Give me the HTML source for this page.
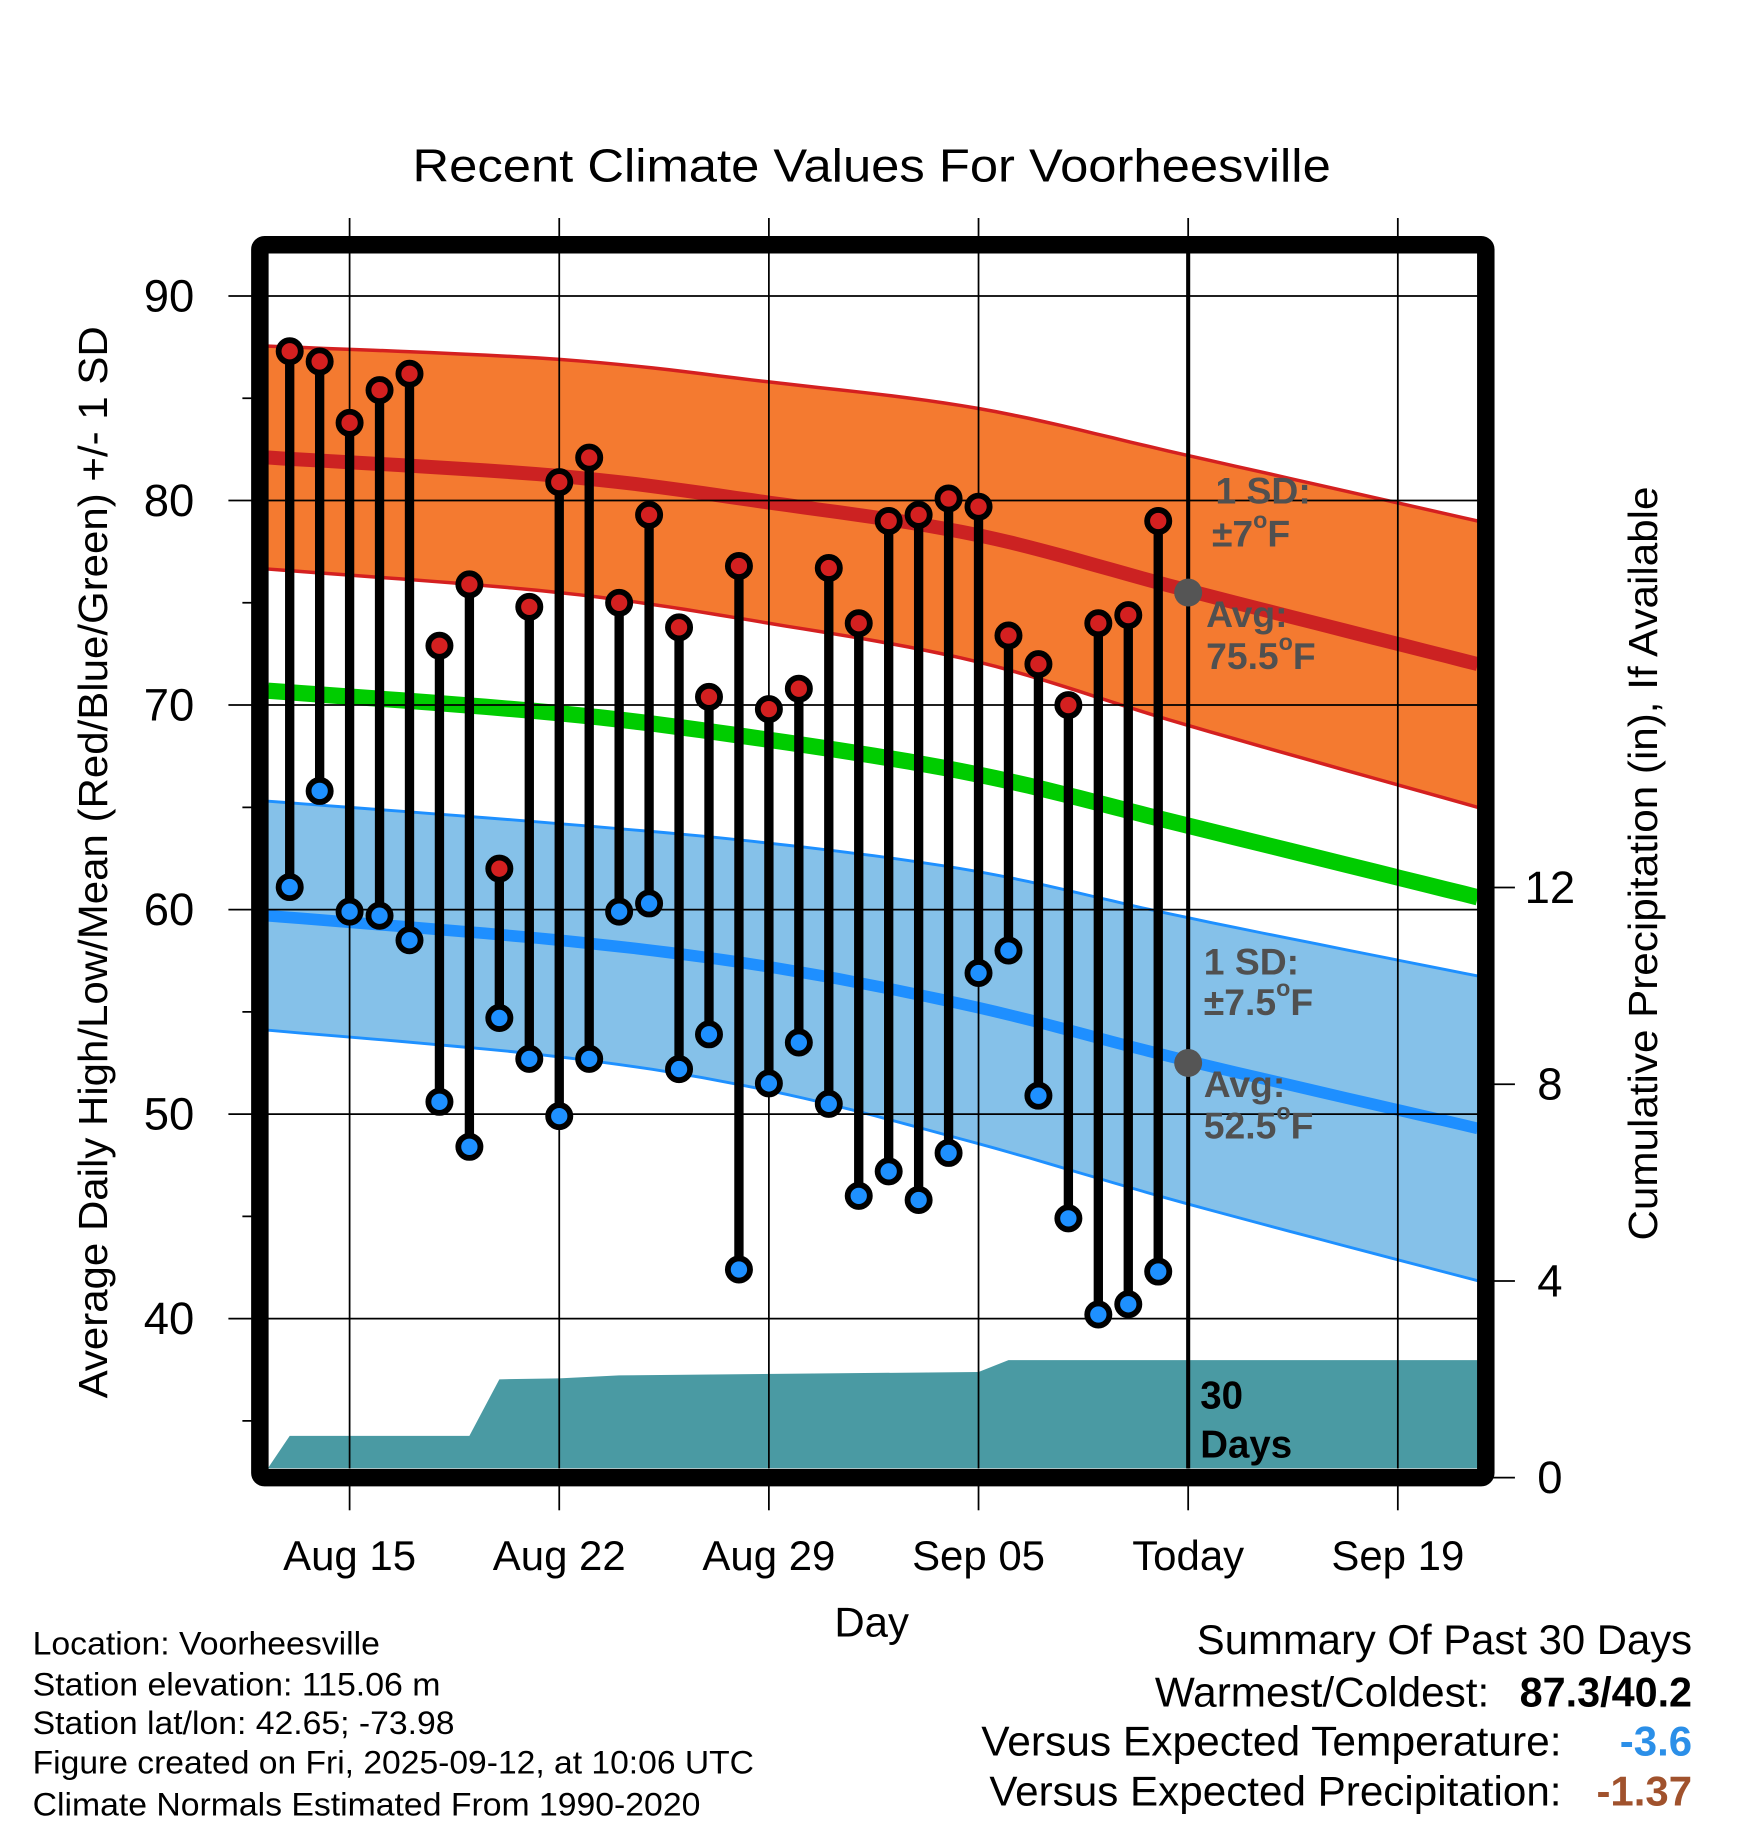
<!DOCTYPE html>
<html><head><meta charset="utf-8"><style>html,body{margin:0;padding:0;background:#fff}svg{display:block}text{font-family:"Liberation Sans",sans-serif}</style></head>
<body>
<svg id="chart" width="1748" height="1828" viewBox="0 0 1500 1568.6" xmlns="http://www.w3.org/2000/svg">
<text x="748" y="142" font-size="40" text-anchor="middle" dominant-baseline="central" textLength="788" lengthAdjust="spacingAndGlyphs">Recent Climate Values For Voorheesville</text>
<g id="layers"></g>
<text x="748" y="1392" font-size="36" text-anchor="middle" dominant-baseline="central">Day</text>
<text transform="translate(80,740) rotate(-90)" font-size="35" text-anchor="middle" dominant-baseline="central" textLength="920" lengthAdjust="spacingAndGlyphs">Average Daily High/Low/Mean (Red/Blue/Green) +/- 1 SD</text>
<text transform="translate(1410,741) rotate(-90)" font-size="35" text-anchor="middle" dominant-baseline="central" textLength="647" lengthAdjust="spacingAndGlyphs">Cumulative Precipitation (in), If Available</text>
<g font-size="28">
<text x="28" y="1410" dominant-baseline="central" textLength="298" lengthAdjust="spacingAndGlyphs">Location: Voorheesville</text>
<text x="28" y="1445" dominant-baseline="central" textLength="350" lengthAdjust="spacingAndGlyphs">Station elevation: 115.06 m</text>
<text x="28" y="1478" dominant-baseline="central" textLength="362" lengthAdjust="spacingAndGlyphs">Station lat/lon: 42.65; -73.98</text>
<text x="28" y="1512" dominant-baseline="central" textLength="619" lengthAdjust="spacingAndGlyphs">Figure created on Fri, 2025-09-12, at 10:06 UTC</text>
<text x="28" y="1548" dominant-baseline="central" textLength="573" lengthAdjust="spacingAndGlyphs">Climate Normals Estimated From 1990-2020</text>
</g>
<g font-size="36">
<text x="1452" y="1407" text-anchor="end" dominant-baseline="central" textLength="425" lengthAdjust="spacingAndGlyphs">Summary Of Past 30 Days</text>
<text x="1278" y="1452" text-anchor="end" dominant-baseline="central" textLength="287" lengthAdjust="spacingAndGlyphs">Warmest/Coldest:</text>
<text x="1452" y="1452" text-anchor="end" dominant-baseline="central" font-weight="bold" textLength="148" lengthAdjust="spacingAndGlyphs">87.3/40.2</text>
<text x="1340" y="1494" text-anchor="end" dominant-baseline="central" textLength="498" lengthAdjust="spacingAndGlyphs">Versus Expected Temperature:</text>
<text x="1452" y="1494" text-anchor="end" dominant-baseline="central" font-weight="bold" fill="#2b8fe8">-3.6</text>
<text x="1340" y="1537" text-anchor="end" dominant-baseline="central" textLength="491" lengthAdjust="spacingAndGlyphs">Versus Expected Precipitation:</text>
<text x="1452" y="1537" text-anchor="end" dominant-baseline="central" font-weight="bold" fill="#a0522d">-1.37</text>
</g>
</svg>
<script>
// day index: 0 = Aug 15
const normDays = [-2.72, 7, 14, 21, 28, 37.67];
const highMean = [82.1, 81.2, 79.9, 78.3, 75.6, 72.0];
const highSD = [5.45, 5.7, 5.9, 6.2, 6.6, 7.0];
const avgMean = [70.7, 69.6, 68.3, 66.6, 64.1, 60.6];
const lowMean = [59.7, 58.5, 57.2, 55.2, 52.6, 49.3];
const lowSD = [5.6, 5.7, 6.05, 6.65, 7.0, 7.45];
const obsDays = [-2,-1,0,1,2,3,4,5,6,7,8,9,10,11,12,13,14,15,16,17,18,19,20,21,22,23,24,25,26,27];
const highs = [87.3,86.8,83.8,85.4,86.2,72.9,75.9,62.0,74.8,80.9,82.1,75.0,79.3,73.8,70.4,76.8,69.8,70.8,76.7,74.0,79.0,79.3,80.1,79.7,73.4,72.0,70.0,74.0,74.4,79.0];
const lows = [61.1,65.8,59.9,59.7,58.5,50.6,48.4,54.7,52.7,49.9,52.7,59.9,60.3,52.2,53.9,42.4,51.5,53.5,50.5,46.0,47.2,45.8,48.1,56.9,58.0,50.9,44.9,40.2,40.7,42.3];
const precipDays = [-2.72,-2,4,5,7,9,21,22,37.67];
const precipVals = [0.2,0.85,0.85,2.0,2.02,2.08,2.15,2.39,2.39];
const yTicks = [90,80,70,60,50,40];
const yMinor = [85,75,65,55,45,35];
const y2Ticks = [0,4,8,12];
const xTickDays = [0,7,14,21,28,35];
const xTickLabels = ["Aug 15","Aug 22","Aug 29","Sep 05","Today","Sep 19"];

const L=230,R=1268,T=217,B=1260;
const X=d=>300+25.7*d;
const Y=v=>254+(90-v)*17.55;
const Y2=p=>1268-p*42.2;
const NS='http://www.w3.org/2000/svg';
const g=document.getElementById('layers');
function mk(tag,attrs,parent){const e=document.createElementNS(NS,tag);for(const k in attrs)e.setAttribute(k,attrs[k]);(parent||g).appendChild(e);return e;}
function line(arr){return arr.map((p,i)=>(i?'L':'M')+p[0].toFixed(1)+','+p[1].toFixed(1)).join(' ');}
// smooth (Catmull-Rom) sampled into polyline
function smooth(arr){const out=[];const n=arr.length;
 for(let i=0;i<n-1;i++){const p0=arr[Math.max(0,i-1)],p1=arr[i],p2=arr[i+1],p3=arr[Math.min(n-1,i+2)];
  for(let k=0;k<12;k++){const t=k/12,t2=t*t,t3=t2*t;
   const f=(a,b,c,d)=>0.5*((2*b)+(-a+c)*t+(2*a-5*b+4*c-d)*t2+(-a+3*b-3*c+d)*t3);
   out.push([f(p0[0],p1[0],p2[0],p3[0]),f(p0[1],p1[1],p2[1],p3[1])]);}}
 out.push(arr[n-1]);return out;}
function band(mean,sd){const up=smooth(normDays.map((d,i)=>[X(d),Y(mean[i]+sd[i])]));const lo=smooth(normDays.map((d,i)=>[X(d),Y(mean[i]-sd[i])]));return {up,lo,area:line(up)+' '+line(lo.slice().reverse()).replace('M','L')+' Z'};}
function curve(vals){return line(smooth(normDays.map((d,i)=>[X(d),Y(vals[i])])));}

const clip=mk('clipPath',{id:'pc'});mk('rect',{x:L,y:T,width:R-L,height:B-T},clip);
const pg=mk('g',{'clip-path':'url(#pc)'});

const hb=band(highMean,highSD);
let e=mk('path',{d:hb.area,fill:'#f47a30'},pg);


mk('path',{d:line(hb.up),stroke:'#d42020',fill:'none','stroke-width':3},pg);
mk('path',{d:line(hb.lo),stroke:'#d42020',fill:'none','stroke-width':3},pg);
e=mk('path',{d:curve(highMean),stroke:'#cc2222',fill:'none','stroke-width':12},pg);


const lb=band(lowMean,lowSD);
e=mk('path',{d:lb.area,fill:'#85c1e9'},pg);


mk('path',{d:line(lb.up),stroke:'#1e90ff',fill:'none','stroke-width':2.5},pg);
mk('path',{d:line(lb.lo),stroke:'#1e90ff',fill:'none','stroke-width':2.5},pg);
e=mk('path',{d:curve(lowMean),stroke:'#1e8fff',fill:'none','stroke-width':10},pg);


e=mk('path',{d:curve(avgMean),stroke:'#00cc00',fill:'none','stroke-width':14},pg);



yTicks.forEach(v=>{mk('line',{x1:196,x2:R,y1:Y(v),y2:Y(v),stroke:'#000','stroke-width':1.5});
 const t=mk('text',{x:145,y:Y(v),'font-size':39,'text-anchor':'middle','dominant-baseline':'central'});t.textContent=v;
 
 });
yMinor.forEach(v=>mk('line',{x1:208,x2:L,y1:Y(v),y2:Y(v),stroke:'#000','stroke-width':1.5}));
xTickDays.forEach((d,i)=>{mk('line',{x1:X(d),x2:X(d),y1:187,y2:B,stroke:'#000','stroke-width':1.5});
 mk('line',{x1:X(d),x2:X(d),y1:1275,y2:1296,stroke:'#000','stroke-width':1.5});
 const t=mk('text',{x:X(d),y:1335,'font-size':36,'text-anchor':'middle','dominant-baseline':'central'});t.textContent=xTickLabels[i];
 
 });
y2Ticks.forEach(p=>{mk('line',{x1:1275,x2:1300,y1:Y2(p),y2:Y2(p),stroke:'#000','stroke-width':1.5});
 const t=mk('text',{x:1330,y:Y2(p),'font-size':39,'text-anchor':'middle','dominant-baseline':'central'});t.textContent=p;
 
 });

let pd='M'+X(precipDays[0])+','+B;
precipDays.forEach((d,i)=>{pd+=' L'+X(d).toFixed(1)+','+Y2(precipVals[i]).toFixed(1);});
pd+=' L'+X(precipDays[precipDays.length-1])+','+B+' Z';
e=mk('path',{d:pd,fill:'#4a9aa3'},pg);



e=mk('line',{x1:X(28),x2:X(28),y1:T,y2:B,stroke:'#000','stroke-width':3.5});



function txt(x,y,s,name,size,fill){const t=mk('text',{x:x,y:y,'font-size':size||32,'font-weight':'bold',fill:fill||'#505050','dominant-baseline':'central'});t.innerHTML=s;return t;}
txt(1043,421,'1 SD:','high-sd-label');
txt(1040,458,'±7<tspan dy="-12" font-size="20">o</tspan><tspan dy="12">F</tspan>','high-sd-value');
txt(1035,527,'Avg:','high-avg-label');
txt(1035,563,'75.5<tspan dy="-12" font-size="20">o</tspan><tspan dy="12">F</tspan>','high-avg-value');
txt(1033,825,'1 SD:','low-sd-label');
txt(1033,860,'±7.5<tspan dy="-12" font-size="20">o</tspan><tspan dy="12">F</tspan>','low-sd-value');
txt(1033,930,'Avg:','low-avg-label');
txt(1033,966,'52.5<tspan dy="-12" font-size="20">o</tspan><tspan dy="12">F</tspan>','low-avg-value');
txt(1030,1198,'30','days-label-num',33,'#000');
txt(1030,1240,'Days','days-label-text',33,'#000');
e=mk('circle',{cx:X(28),cy:Y(75.5),r:12,fill:'#555'});


e=mk('circle',{cx:X(28),cy:Y(52.5),r:12,fill:'#555'});



obsDays.forEach((d,i)=>{
 const x=X(d);
 const s=mk('line',{x1:x,x2:x,y1:Y(highs[i]),y2:Y(lows[i]),stroke:'#000','stroke-width':8});
 
 
 let c=mk('circle',{cx:x,cy:Y(highs[i]),r:9.5,fill:'#d42020',stroke:'#000','stroke-width':5});
 
 
 c=mk('circle',{cx:x,cy:Y(lows[i]),r:9.5,fill:'#1e90ff',stroke:'#000','stroke-width':5});
 
 
});

e=mk('rect',{x:223,y:210,width:1052,height:1058,fill:'none',stroke:'#000','stroke-width':15,rx:4});


</script>
</body></html>
